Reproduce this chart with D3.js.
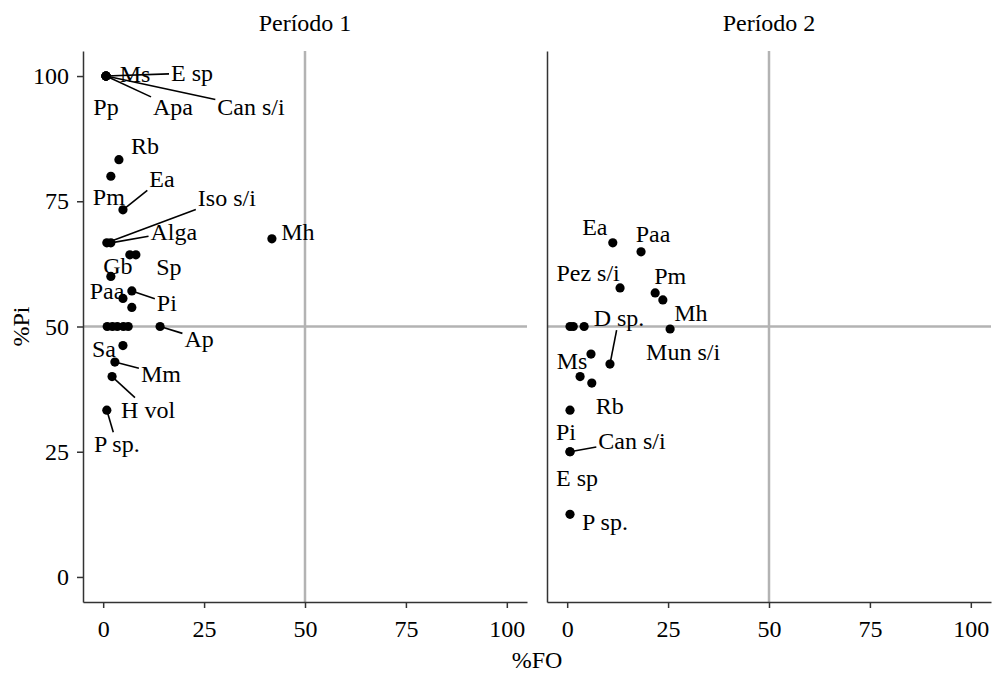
<!DOCTYPE html>
<html>
<head>
<meta charset="utf-8">
<script src="https://cdn.jsdelivr.net/npm/d3@7"></script>
<style>
  body { margin: 0; background: #fff; }
</style>
</head>
<body>
<div id="chart"></div>
<script>
// periods / facets
const periods = ["Período 1", "Período 2"];
const xTicks = [0, 25, 50, 75, 100];
const yTicks = [0, 25, 50, 75, 100];

// Período 1
const p1Names = ["Ms", "E sp", "Pp", "Apa", "Can s/i", "Rb", "Pm", "Ea", "Iso s/i", "Alga", "Mh",
    "Sp", "", "Gb", "Pi", "Paa", "", "", "", "", "", "", "Ap", "Sa", "Mm", "H vol", "P sp."];
const p1FO = [0.7, 0.7, 0.7, 0.7, 0.7, 3.9, 1.9, 4.9, 0.9, 1.9, 41.8,
    6.6, 8.1, 1.9, 7.1, 4.9, 7.1, 1.0, 2.3, 3.5, 5.0, 6.2, 14.1, 4.9, 2.9, 2.2, 0.9];
const p1Pi = [100, 100, 100, 100, 100, 83.3, 80, 73.3, 66.7, 66.7, 67.5,
    64.3, 64.3, 60, 57.1, 55.6, 53.8, 50, 50, 50, 50, 50, 50, 46.2, 42.9, 40, 33.3];

// Período 2
const p2Names = ["Ea", "Paa", "Pez s/i", "Pm", "Mh", "Mun s/i", "D sp.", "Ms", "", "", "", "",
    "Rb", "Pi", "Can s/i", "E sp", "P sp."];
const p2FO = [11.3, 18.3, 13.1, 21.8, 23.7, 25.5, 10.6, 5.9, 0.7, 1.5, 4.2, 3.2,
    6.1, 0.7, 0.7, 0.7, 0.7];
const p2Pi = [66.7, 64.9, 57.7, 56.7, 55.3, 49.5, 42.5, 44.5, 50, 50, 50, 40,
    38.7, 33.3, 25, 25, 12.5];

// repelled label placement (pixel offsets from the point) and which labels get a segment
const p1Offsets = [[29, -2], [86, -3], [0, 31], [67, 31], [145, 31], [26, -14], [-2, 21], [39, -31],
    [120, -45], [63, -11], [26, -7], [39, 12], null, [7, -10], [35, 12], [-16, -7], null,
    null, null, null, null, null, [39, 12], [-19, 3], [46, 12], [36, 33], [10, 34]];
const p1Seg = ["E sp", "Apa", "Can s/i", "Ea", "Iso s/i", "Alga", "Pi", "Ap", "Mm", "H vol", "P sp."];
const p2Offsets = [[-18, -16], [12, -18], [-32, -15], [15, -17], [28, 13], [13, 23], [9, -46], [-19, 7],
    null, null, null, null, [18, 23], [-4, 22], [62, -11], [7, 26], [35, 8]];
const p2Seg = ["D sp.", "Can s/i"];

const panelData = [
    { names: p1Names, fo: p1FO, pi: p1Pi, off: p1Offsets, seg: p1Seg },
    { names: p2Names, fo: p2FO, pi: p2Pi, off: p2Offsets, seg: p2Seg }
];

const width = 995, height = 675;
const panelLeft = [83, 547], panelW = 444;
const panelTop = 51, panelBottom = 602;
const fontSize = 24;
const serif = "'Liberation Serif', serif";

const svg = d3.select("#chart").append("svg")
    .attr("width", width)
    .attr("height", height);

const y = d3.scaleLinear().domain([-5, 105]).range([panelBottom, panelTop]);

function styleText(sel) {
    sel.attr("font-family", null)
        .style("font-family", serif)
        .style("font-size", fontSize + "px")
        .attr("fill", "#000");
}

panelData.forEach(function (pd, k) {
    const x = d3.scaleLinear().domain([-5, 105]).range([panelLeft[k], panelLeft[k] + panelW]);
    const g = svg.append("g");

    // reference lines at 50 %
    g.append("line")
        .attr("x1", x(50)).attr("x2", x(50))
        .attr("y1", panelTop).attr("y2", panelBottom)
        .attr("stroke", "#b3b3b3").attr("stroke-width", 2.5);
    g.append("line")
        .attr("x1", panelLeft[k]).attr("x2", panelLeft[k] + panelW)
        .attr("y1", y(50)).attr("y2", y(50))
        .attr("stroke", "#b3b3b3").attr("stroke-width", 2.5);

    // x axis
    const xAxis = g.append("g")
        .attr("transform", "translate(0," + panelBottom + ")")
        .call(d3.axisBottom(x).tickValues(xTicks).tickSize(6).tickPadding(12).tickSizeOuter(0));
    xAxis.attr("font-family", null).attr("font-size", null);
    xAxis.select(".domain").attr("stroke", "#333").attr("stroke-width", 1.5);
    xAxis.selectAll(".tick line").attr("stroke", "#333").attr("stroke-width", 1.5);
    xAxis.selectAll("text").call(styleText);

    // y axis (labels only on first panel)
    const yAxis = g.append("g")
        .attr("transform", "translate(" + panelLeft[k] + ",0)")
        .call(d3.axisLeft(y).tickValues(yTicks).tickSize(k === 0 ? 6 : 0).tickPadding(8).tickSizeOuter(0));
    yAxis.attr("font-family", null).attr("font-size", null);
    yAxis.select(".domain").attr("stroke", "#333").attr("stroke-width", 1.5);
    yAxis.selectAll(".tick line").attr("stroke", "#333").attr("stroke-width", 1.5);
    yAxis.selectAll("text").call(styleText);
    if (k !== 0) yAxis.selectAll("text").remove();

    // facet title
    g.append("text")
        .attr("x", panelLeft[k] + panelW / 2)
        .attr("y", 31)
        .attr("text-anchor", "middle")
        .call(styleText)
        .text(periods[k]);

    const pts = pd.fo.map(function (d, i) {
        return { name: pd.names[i], fo: d, pi: pd.pi[i], off: pd.off[i] };
    });

    const segLayer = g.append("g");
    const dotLayer = g.append("g");
    const labelLayer = g.append("g");

    pts.forEach(function (d) {
        if (!d.off) return;
        const px = x(d.fo), py = y(d.pi);
        const lx = px + d.off[0], ly = py + d.off[1];
        const t = labelLayer.append("text")
            .attr("x", lx).attr("y", ly)
            .attr("text-anchor", "middle")
            .attr("dominant-baseline", "central")
            .call(styleText)
            .text(d.name);

        if (pd.seg.indexOf(d.name) < 0) return;
        const b = t.node().getBBox();
        const pad = 2;
        const x0 = b.x - pad, x1 = b.x + b.width + pad, y0 = b.y + 3 - pad, y1 = b.y + b.height - 3 + pad;
        const dx = lx - px, dy = ly - py;
        // where the segment from the point toward the label centre meets the label box
        let tmin = 1;
        [[x0, "x"], [x1, "x"], [y0, "y"], [y1, "y"]].forEach(function (e) {
            const tt = e[1] === "x" ? (e[0] - px) / dx : (e[0] - py) / dy;
            if (!isFinite(tt) || tt < 0 || tt > 1) return;
            const cx = px + tt * dx, cy = py + tt * dy;
            if (cx >= x0 - 0.01 && cx <= x1 + 0.01 && cy >= y0 - 0.01 && cy <= y1 + 0.01) {
                tmin = Math.min(tmin, tt);
            }
        });
        segLayer.append("line")
            .attr("x1", px).attr("y1", py)
            .attr("x2", px + tmin * dx).attr("y2", py + tmin * dy)
            .attr("stroke", "#000").attr("stroke-width", 1.6);
    });

    dotLayer.selectAll("circle")
        .data(pts)
        .enter().append("circle")
        .attr("cx", function (d) { return x(d.fo); })
        .attr("cy", function (d) { return y(d.pi); })
        .attr("r", 4.6)
        .attr("fill", "#000");
});

// axis titles
svg.append("text")
    .attr("x", (panelLeft[0] + panelLeft[1] + panelW) / 2)
    .attr("y", 668)
    .attr("text-anchor", "middle")
    .call(styleText)
    .text("%FO");

svg.append("text")
    .attr("transform", "translate(29," + ((panelTop + panelBottom) / 2) + ") rotate(-90)")
    .attr("text-anchor", "middle")
    .call(styleText)
    .text("%Pi");
</script>
</body>
</html>
